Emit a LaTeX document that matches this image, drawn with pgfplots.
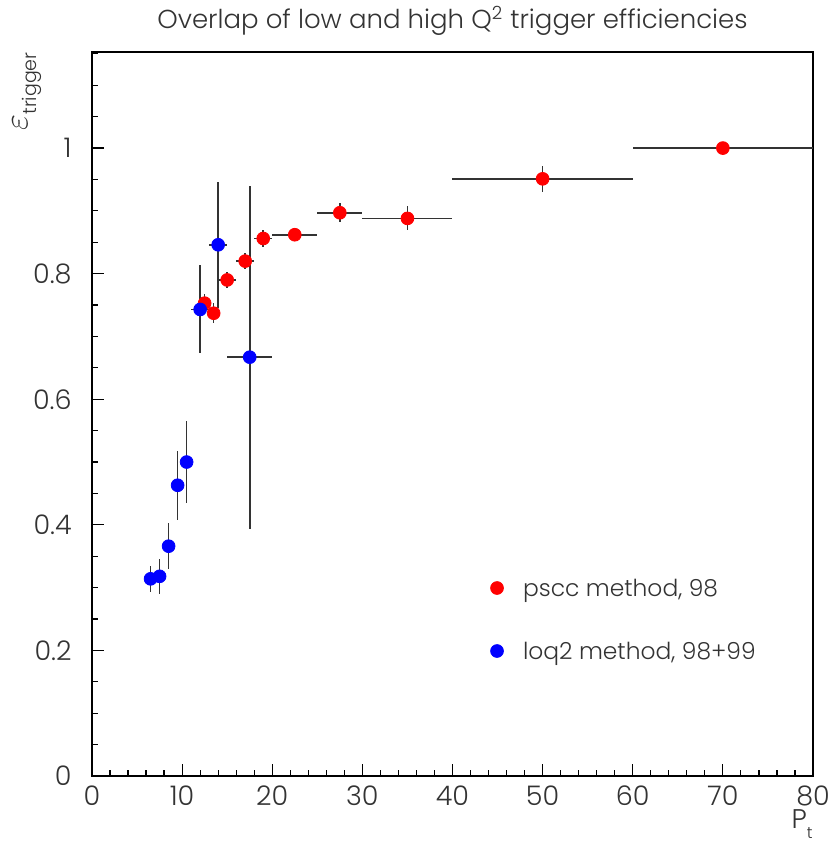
\documentclass[border=0pt]{standalone}
\usepackage{pgfplots}
\pgfplotsset{compat=1.18}
\usepackage{fontspec}
\setmainfont{Poppins}[UprightFont=* Light]
\definecolor{txt}{gray}{0.2}
\begin{document}
\begin{tikzpicture}
\begin{axis}[
  scale only axis, width=360.5pt, height=362pt,
  xmin=0, xmax=80, ymin=0, ymax=1.153,
  xtick={0,10,20,30,40,50,60,70,80},
  minor xtick={2,4,6,8,12,14,16,18,22,24,26,28,32,34,36,38,42,44,46,48,52,54,56,58,62,64,66,68,72,74,76,78},
  ytick={0,0.2,0.4,0.6,0.8,1},
  minor ytick={0.05,0.1,0.15,0.25,0.3,0.35,0.45,0.5,0.55,0.65,0.7,0.75,0.85,0.9,0.95,1.05,1.1,1.15},
  tick align=inside, tick pos=left,
  major tick length=6pt, minor tick length=3pt,
  axis line style={line width=0.8pt},
  every tick/.style={black, line width=0.6pt},
  /pgf/number format/assume math mode=true,
  tick label style={font=\fontsize{13.5}{14}\selectfont, text=txt, inner sep=0pt},
  xticklabel style={yshift=-4.5pt},
  yticklabel style={xshift=-10pt},
  ylabel={$\varepsilon$\raisebox{-0.5ex}{\fontsize{9.5}{9.5}\selectfont trigger}},
  ylabel style={at={(rel axis cs:-0.090,1.0)}, anchor=east, inner sep=0pt, font=\fontsize{17}{17}\selectfont, text=txt},
  xlabel={P\raisebox{-5pt}{\fontsize{8}{8}\selectfont t}},
  xlabel style={at={(rel axis cs:1,0)}, anchor=north east, yshift=-16.5pt, inner sep=0pt, font=\fontsize{13.5}{13.5}\selectfont, text=txt},
  title={Overlap of low and high Q\textsuperscript{2} trigger efficiencies},
  title style={at={(rel axis cs:0.5,1)}, anchor=base, yshift=6pt, inner sep=0pt, font=\fontsize{13}{13}\selectfont, text=txt},
  legend style={at={(rel axis cs:0.5529,0.2707)}, anchor=north west, draw=none, fill=none,
    inner sep=0pt, outer sep=0pt, row sep=21pt, column sep=9.8pt,
    nodes={inner sep=0pt, text height=8pt, text depth=2.5pt, anchor=base west, text=txt},
    font=\fontsize{11.7}{11.7}\selectfont},
  legend cell align=left,
  legend image code/.code={\draw[#1, only marks] plot coordinates {(0pt,4pt)};},
]
\addplot+[only marks, mark=*, mark size=3.2pt, color=red, mark options={draw=red, fill=red},
  error bars/.cd, x dir=both, x explicit, y dir=both, y explicit,
  error mark=none, error bar style={black!80, line width=0.8pt}]
  table[x=x, y=y, x error=ex, y error=ey] {
  x y ex ey
  12.5 0.753 0.5 0.015
  13.5 0.737 0.5 0.016
  15 0.790 1 0.013
  17 0.820 1 0.013
  19 0.856 1 0.014
  22.5 0.862 2.5 0.006
  27.5 0.897 2.5 0.015
  35 0.888 5 0.019
  50 0.951 10 0.021
  70 1.000 10 0
};
\addlegendentry{pscc method, 98}
\addplot+[only marks, mark=*, mark size=3.2pt, color=blue, mark options={draw=blue, fill=blue},
  error bars/.cd, x dir=both, x explicit, y dir=both, y explicit,
  error mark=none, error bar style={black!80, line width=0.8pt}]
  table[x=x, y=y, x error=ex, y error=ey] {
  x y ex ey
  6.5 0.314 0.5 0.021
  7.5 0.318 0.5 0.028
  8.5 0.366 0.5 0.037
  9.5 0.463 0.5 0.055
  10.5 0.500 0.5 0.065
  12 0.743 1 0.070
  14 0.846 1 0.100
  17.5 0.667 2.5 0.273
};
\addlegendentry{loq2 method, 98+99}
\end{axis}
\pgfresetboundingbox
\path ([xshift=-46pt,yshift=-33pt]current axis.south west) rectangle ([xshift=9.5pt,yshift=26pt]current axis.north east);
\end{tikzpicture}
\end{document}
